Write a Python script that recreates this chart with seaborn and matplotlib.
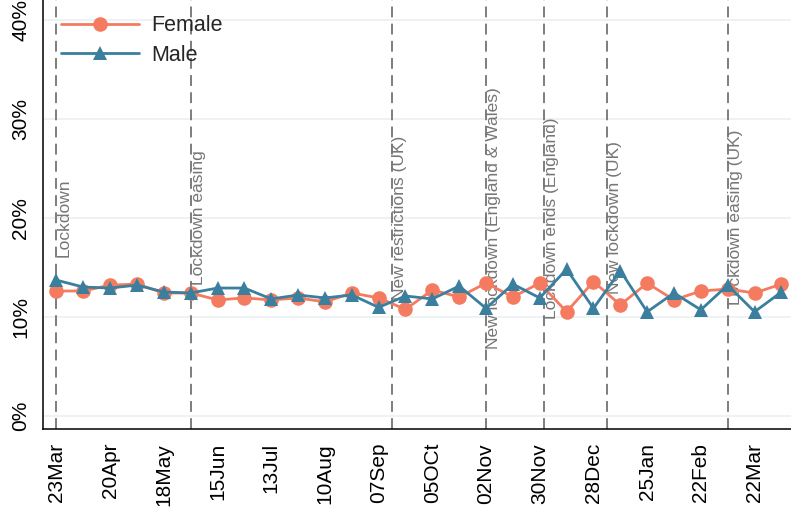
import seaborn as sns
import pandas as pd
import matplotlib.pyplot as plt
import matplotlib.ticker as mticker

sns.set_style("white")
plt.rcParams['font.family'] = ['Liberation Sans', 'DejaVu Sans']

# biweekly share (%) by sex, starting 23 Mar 2020
dates = pd.date_range("2020-03-23", periods=28, freq="14D")
female = [12.6, 12.6, 13.2, 13.3, 12.4, 12.4, 11.7, 11.9, 11.7, 11.9, 11.5, 12.4, 11.9, 10.75,
          12.7, 12.0, 13.4, 12.0, 13.4, 10.5, 13.55, 11.2, 13.4, 11.7, 12.6, 12.8, 12.4, 13.3]
male = [13.7, 13.0, 12.9, 13.2, 12.5, 12.4, 12.9, 12.9, 11.8, 12.2, 11.9, 12.2, 10.95, 12.1,
        11.8, 13.1, 10.85, 13.3, 11.9, 14.8, 10.85, 14.65, 10.5, 12.4, 10.7, 13.2, 10.5, 12.5]

event_dates = pd.to_datetime(["2020-03-23", "2020-06-01", "2020-09-14", "2020-11-02",
                              "2020-12-02", "2021-01-04", "2021-03-08"])
event_labels = ["Lockdown", "Lockdown easing", "New restrictions (UK)",
                "New lockdown (England & Wales)", "Lockdown ends (England)",
                "New lockdown (UK)", "Lockdown easing (UK)"]

tick_dates = pd.date_range("2020-03-23", periods=14, freq="28D")
tick_labels = ["23Mar", "20Apr", "18May", "15Jun", "13Jul", "10Aug", "07Sep", "05OCt",
               "02Nov", "30Nov", "28Dec", "25Jan", "22Feb", "22Mar"]

df = pd.DataFrame({
    "date": list(dates) * 2,
    "value": female + male,
    "sex": ["Female"] * len(female) + ["Male"] * len(male),
})

fig = plt.figure(figsize=(7.91, 5.09), dpi=100)
ax = fig.add_axes([43 / 791, 80 / 509, 1 - 43 / 791, 429 / 509])

for v in [0, 10, 20, 30, 40]:
    ax.axhline(v, color="#eaf1f2", lw=1.2, zorder=0)

for d, lab in zip(event_dates, event_labels):
    ax.axvline(d, color="#737373", lw=1.3, dashes=(6, 3.5), zorder=1)
    ax.text(d, 20, lab, rotation=90, ha="left", va="center", fontsize=12.5,
            color="#767676", zorder=2)

sns.lineplot(data=df, x="date", y="value", hue="sex", style="sex",
             palette={"Female": "#f47b60", "Male": "#3a7f9e"},
             markers={"Female": "o", "Male": "^"}, dashes=False,
             markersize=10.5, markeredgewidth=0, linewidth=2.0, ax=ax, zorder=3)

ax.set_xlim(pd.Timestamp("2020-03-16"), pd.Timestamp("2021-04-10"))
ax.set_ylim(-1.34, 42.0)
ax.set_xticks(tick_dates)
ax.set_xticklabels(tick_labels, rotation=90)
ax.set_yticks([0, 10, 20, 30, 40])
ax.yaxis.set_major_formatter(mticker.FuncFormatter(lambda v, p: f"{v:.0f}%"))
for t in ax.get_yticklabels():
    t.set_rotation(90)
    t.set_va("center")
ax.tick_params(axis="both", length=6, width=1.1, colors="black")
ax.tick_params(axis="x", pad=4, labelsize=15)
ax.tick_params(axis="y", pad=3, labelsize=15)
ax.set_xlabel("")
ax.set_ylabel("")
sns.despine(ax=ax)
for s in ["left", "bottom"]:
    ax.spines[s].set_color("black")
    ax.spines[s].set_linewidth(1.1)

ax.legend(loc="upper left", bbox_to_anchor=(0.01, 0.99), frameon=False, fontsize=15.5,
          handlelength=3.6, handletextpad=0.6, labelspacing=0.4, borderaxespad=0.2,
          borderpad=0.3)

fig.savefig("out.png", dpi=100)
